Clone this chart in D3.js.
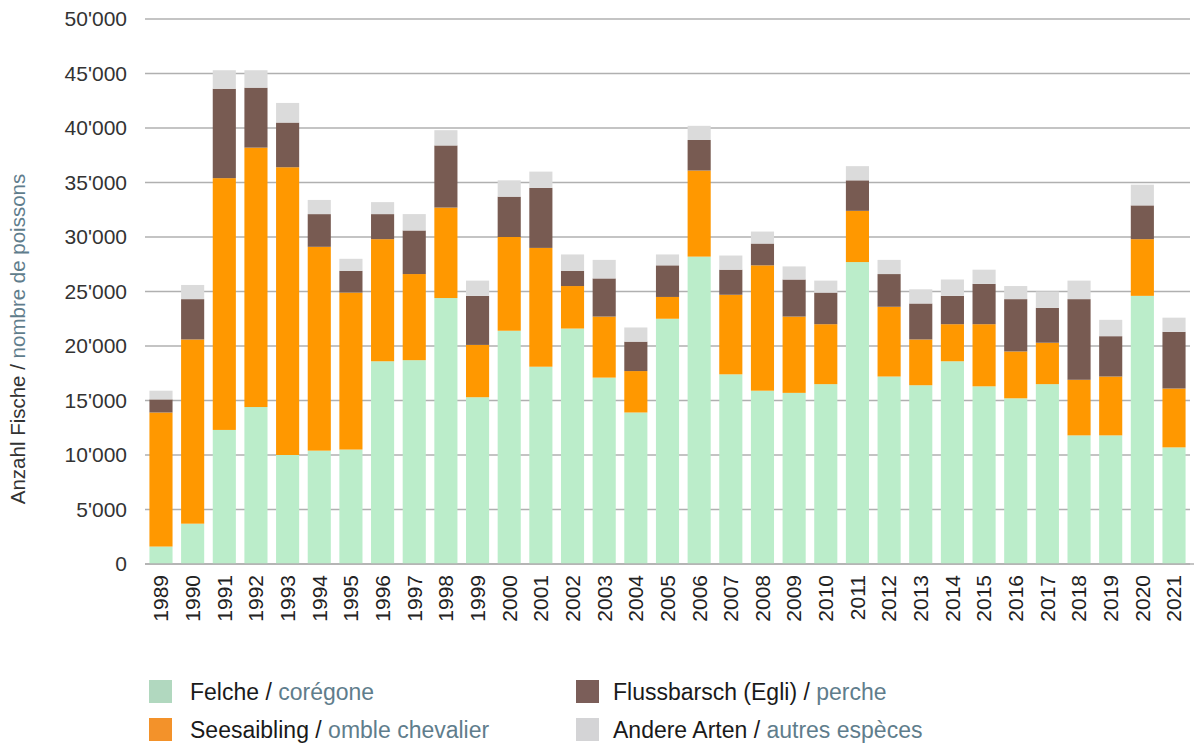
<!DOCTYPE html>
<html>
<head>
<meta charset="utf-8">
<script src="https://d3js.org/d3.v7.min.js"></script>
<style>
  body { margin: 0; background: #fff; }
  svg text { font-family: "Liberation Sans", Arial, sans-serif; }
</style>
</head>
<body>
<div id="chart"></div>
<script>
// values (number of fish)
var years = ["1989","1990","1991","1992","1993","1994","1995","1996","1997","1998","1999",
             "2000","2001","2002","2003","2004","2005","2006","2007","2008","2009","2010",
             "2011","2012","2013","2014","2015","2016","2017","2018","2019","2020","2021"];
var felche = [1600,3700,12300,14400,10000,10400,10500,18600,18700,24400,15300,
              21400,18100,21600,17100,13900,22500,28200,17400,15900,15700,16500,
              27700,17200,16400,18600,16300,15200,16500,11800,11800,24600,10700];
var seesaibling = [12300,16900,23100,23800,26400,18700,14400,11200,7900,8300,4800,
                   8600,10900,3900,5600,3800,2000,7900,7300,11500,7000,5500,
                   4700,6400,4200,3400,5700,4300,3800,5100,5400,5200,5400];
var egli = [1200,3700,8200,5500,4100,3000,2000,2300,4000,5700,4500,
            3700,5500,1400,3500,2700,2900,2800,2300,2000,3400,2900,
            2800,3000,3300,2600,3700,4800,3200,7400,3700,3100,5200];
var andere = [800,1300,1700,1600,1800,1300,1100,1100,1500,1400,1400,
              1500,1500,1500,1700,1300,1000,1300,1300,1100,1200,1100,
              1300,1300,1300,1500,1300,1200,1500,1700,1500,1900,1300];
var yTicks = [0,5000,10000,15000,20000,25000,30000,35000,40000,45000,50000];

var series = [
  {key: "felche", de: "Felche", fr: "corégone", color: "#bbedca", legend: "#b1d8bf", values: felche},
  {key: "seesaibling", de: "Seesaibling", fr: "omble chevalier", color: "#ff9800", legend: "#f3922a", values: seesaibling},
  {key: "egli", de: "Flussbarsch (Egli)", fr: "perche", color: "#785b52", legend: "#7b5e59", values: egli},
  {key: "andere", de: "Andere Arten", fr: "autres espèces", color: "#dbdbdb", legend: "#d4d4d6", values: andere}
];

var rows = years.map(function(y, i) {
  var r = {year: y};
  series.forEach(function(s) { r[s.key] = s.values[i]; });
  return r;
});

var W = 1194, H = 745;
var margin = {top: 19, right: 4, bottom: 181, left: 145};
var width = W - margin.left - margin.right,
    height = H - margin.top - margin.bottom;

var svg = d3.select("#chart").append("svg")
  .attr("width", W).attr("height", H);
var g = svg.append("g")
  .attr("transform", "translate(" + margin.left + "," + margin.top + ")");

var x = d3.scaleBand().domain(years).range([0, width]).paddingInner(0.27).paddingOuter(0.14);
var y = d3.scaleLinear().domain([0, 50000]).range([height, 0]);

var fmt = function(d) { return d3.format(",")(d).replace(/,/g, "'"); };

// grid lines
g.append("g")
  .selectAll("line").data(yTicks).enter().append("line")
  .attr("x1", 0).attr("x2", width)
  .attr("y1", function(d) { return y(d); }).attr("y2", function(d) { return y(d); })
  .attr("stroke", "#b0b0b0").attr("stroke-width", 1.5);

// y labels
var yAxis = g.append("g")
  .call(d3.axisLeft(y).tickValues(yTicks).tickFormat(fmt).tickSize(0).tickPadding(18));
yAxis.select(".domain").remove();
yAxis.selectAll("text")
  .style("font-size", "21px").attr("fill", "#333")
  .style("font-family", "'Liberation Sans', Arial, sans-serif");

// stacked bars
var stack = d3.stack().keys(series.map(function(s) { return s.key; }));
var layers = stack(rows);
g.selectAll(".layer").data(layers).enter().append("g")
  .attr("class", "layer")
  .attr("fill", function(d, i) { return series[i].color; })
  .selectAll("rect").data(function(d) { return d; }).enter().append("rect")
  .attr("x", function(d) { return x(d.data.year); })
  .attr("width", x.bandwidth())
  .attr("y", function(d) { return y(d[1]); })
  .attr("height", function(d) { return y(d[0]) - y(d[1]); });

// x axis
var xAxis = g.append("g")
  .attr("transform", "translate(0," + height + ")")
  .call(d3.axisBottom(x).tickSize(0).tickPadding(10));
xAxis.select(".domain").attr("stroke", "#b0b0b0").attr("stroke-width", 1.5)
  .attr("d", "M0,0H" + (width + margin.right));
xAxis.selectAll("text")
  .style("font-size", "21px").attr("fill", "#222")
  .style("font-family", "'Liberation Sans', Arial, sans-serif")
  .attr("transform", "rotate(-90)")
  .attr("text-anchor", "end")
  .attr("dy", "0.35em")
  .attr("x", -11).attr("y", 0);

// y title
var yt = svg.append("text")
  .attr("transform", "translate(25,339) rotate(-90)")
  .attr("text-anchor", "middle")
  .style("font-size", "20.5px");
yt.append("tspan").attr("fill", "#333").text("Anzahl Fische / ");
yt.append("tspan").attr("fill", "#5f7d8c").text("nombre de poissons");

// legend
var legendPos = [[149, 680, 190], [149, 718, 190], [576, 680, 613], [576, 718, 613]];
var lg = svg.selectAll(".legend").data(series).enter().append("g")
  .attr("class", "legend");
lg.append("rect").attr("width", 23).attr("height", 23)
  .attr("x", function(d, i) { return legendPos[i][0]; })
  .attr("y", function(d, i) { return legendPos[i][1]; })
  .attr("fill", function(d) { return d.legend; });
var lt = lg.append("text")
  .attr("x", function(d, i) { return legendPos[i][2]; })
  .attr("y", function(d, i) { return legendPos[i][1] + 20; })
  .style("font-size", "23px");
lt.append("tspan").attr("fill", "#1a1a1a").text(function(d) { return d.de + " / "; });
lt.append("tspan").attr("fill", "#5f7d8c").text(function(d) { return d.fr; });
</script>
</body>
</html>
